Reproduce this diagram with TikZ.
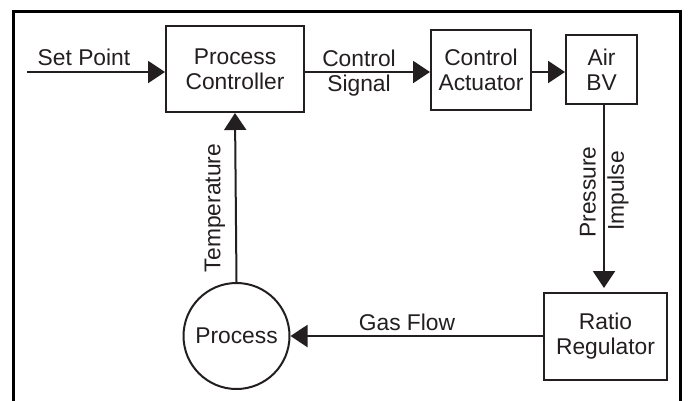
\documentclass[tikz,border=0pt]{standalone}
\usepackage{fontspec}
\setmainfont{Liberation Sans}
\usetikzlibrary{arrows.meta}
\definecolor{ink}{HTML}{231F20}
\begin{document}
\begin{tikzpicture}[x=1pt,y=-1pt,
  every node/.style={font=\fontsize{22.8}{25}\selectfont, text=ink, inner sep=0pt},
  blk/.style={draw=ink, line width=2pt, rectangle, align=center},
  conn/.style={draw=ink, line width=2pt, -{Triangle[length=17pt,width=22pt]}},
  lbl/.style={align=center}]
\useasboundingbox (0,0) rectangle (688,400);
\fill[white] (0,0) rectangle (688,400);
% frame (open at bottom)
\draw[black, line width=3pt] (13.5,405) -- (13.5,11.5) -- (680,11.5) -- (680,405);
% blocks
\node[blk, minimum width=138pt, minimum height=86pt] (pc) at (235,69) {Process\\Controller};
\node[blk, minimum width=100pt, minimum height=80pt] (ca) at (481,70) {Control\\Actuator};
\node[blk, minimum width=71pt, minimum height=69pt] (bv) at (601.5,69.5) {Air\\BV};
\node[blk, minimum width=123pt, minimum height=87pt] (rr) at (605.5,336.5) {Ratio\\Regulator};
\node[draw=ink, line width=2pt, circle, minimum size=106pt] (proc) at (236.5,336) {Process};
\coordinate (sp) at (27,72);
% connectors
\draw[conn] (sp) -- (sp -| pc.west);
\draw[conn] (pc.east |- sp) -- (ca.west |- sp);
\draw[conn] (ca.east |- sp) -- (bv.west |- sp);
\draw[conn, shorten >=4pt] ([xshift=2.5pt]bv.south) -- ([xshift=-1.5pt]rr.north);
\draw[conn] (rr.west |- proc.east) -- (proc.east);
\draw[conn] (proc.north) -- (pc.south);
% labels
\node[lbl] (lsp) at (84,57) {Set Point};
\node[lbl] (lcs) at (359,73) {Control\\Signal};
\node[lbl, rotate=90] (ltemp) at (215,208) {Temperature};
\node[lbl, rotate=90] (lpres) at (588,192) {Pressure};
\node[lbl, rotate=90] (limp) at (618,191) {Impulse};
\node[lbl] (lgas) at (407,322) {Gas Flow};
\end{tikzpicture}
\end{document}
